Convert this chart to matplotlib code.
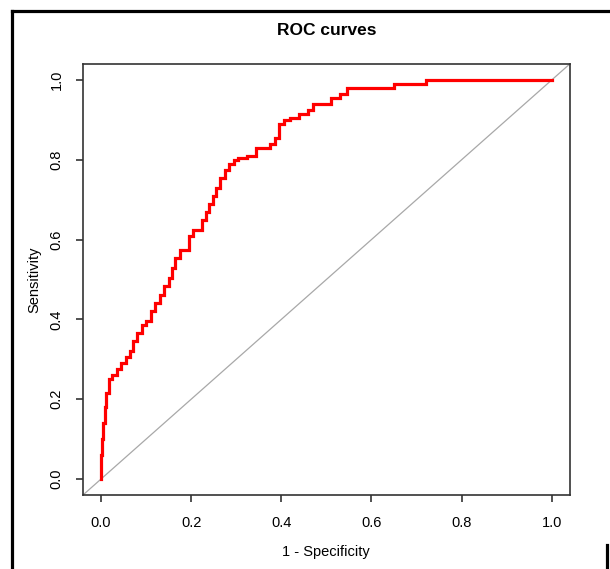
import numpy as np
import matplotlib.pyplot as plt
from matplotlib.lines import Line2D

plt.rcParams['font.family'] = ['Liberation Sans', 'DejaVu Sans']

# ROC curve corners (1 - specificity, sensitivity)
fpr = [0.000, 0.000, 0.003, 0.003, 0.005, 0.005, 0.008, 0.008, 0.012, 0.012,
       0.018, 0.018, 0.025, 0.025, 0.035, 0.035, 0.045, 0.045, 0.055, 0.055,
       0.065, 0.065, 0.072, 0.072, 0.080, 0.080, 0.090, 0.090, 0.100, 0.100,
       0.110, 0.110, 0.120, 0.120, 0.130, 0.130, 0.140, 0.140, 0.150, 0.150,
       0.158, 0.158, 0.165, 0.165, 0.175, 0.175, 0.195, 0.195, 0.205, 0.205,
       0.225, 0.225, 0.232, 0.232, 0.240, 0.240, 0.248, 0.248, 0.256, 0.256,
       0.264, 0.264, 0.275, 0.275, 0.285, 0.285, 0.295, 0.295, 0.305, 0.305,
       0.325, 0.325, 0.345, 0.345, 0.375, 0.375, 0.385, 0.385, 0.395, 0.395,
       0.405, 0.405, 0.420, 0.420, 0.440, 0.440, 0.460, 0.460, 0.470, 0.470,
       0.510, 0.510, 0.530, 0.530, 0.545, 0.545, 0.650, 0.650, 0.720, 0.720,
       1.000]
tpr = [0.000, 0.060, 0.060, 0.100, 0.100, 0.140, 0.140, 0.180, 0.180, 0.215,
       0.215, 0.250, 0.250, 0.262, 0.262, 0.275, 0.275, 0.290, 0.290, 0.305,
       0.305, 0.320, 0.320, 0.345, 0.345, 0.365, 0.365, 0.385, 0.385, 0.395,
       0.395, 0.420, 0.420, 0.440, 0.440, 0.460, 0.460, 0.485, 0.485, 0.505,
       0.505, 0.530, 0.530, 0.555, 0.555, 0.575, 0.575, 0.610, 0.610, 0.625,
       0.625, 0.650, 0.650, 0.670, 0.670, 0.690, 0.690, 0.710, 0.710, 0.730,
       0.730, 0.755, 0.755, 0.775, 0.775, 0.790, 0.790, 0.800, 0.800, 0.805,
       0.805, 0.810, 0.810, 0.830, 0.830, 0.840, 0.840, 0.855, 0.855, 0.890,
       0.890, 0.900, 0.900, 0.905, 0.905, 0.915, 0.915, 0.925, 0.925, 0.940,
       0.940, 0.955, 0.955, 0.965, 0.965, 0.980, 0.980, 0.990, 0.990, 1.000,
       1.000]

ticks = [0.0, 0.2, 0.4, 0.6, 0.8, 1.0]
tick_labels = ['0.0', '0.2', '0.4', '0.6', '0.8', '1.0']

fig = plt.figure(figsize=(6.1, 5.69), dpi=100)
ax = fig.add_axes([0.136, 0.130, 0.798, 0.7575])

# chance line across the whole box, like abline(0, 1)
ax.axline((0, 0), (1, 1), color='#a8a8a8', lw=0.9)
ax.plot(fpr, tpr, color='#ff0000', lw=2.3, solid_joinstyle='miter')

ax.set_xlim(-0.04, 1.04)
ax.set_ylim(-0.04, 1.04)
ax.set_xticks(ticks)
ax.set_xticklabels(tick_labels)
ax.set_yticks(ticks)
ax.set_yticklabels(tick_labels, rotation=90, va='center')
ax.tick_params(axis='both', direction='out', length=5, width=1.1,
               color='#222222', labelsize=10.5)
ax.tick_params(axis='x', pad=10)
ax.tick_params(axis='y', pad=9)
for sp in ax.spines.values():
    sp.set_linewidth(1.2)
    sp.set_color('#333333')

ax.set_title('ROC curves', fontsize=12.5, fontweight='bold', pad=21)
ax.set_xlabel('1 - Specificity', fontsize=10.5)
ax.set_ylabel('Sensitivity', fontsize=10.5)
ax.xaxis.set_label_coords(0.5, -0.115)
ax.yaxis.set_label_coords(-0.085, 0.5)

# screenshot frame around the plot
fig.add_artist(Line2D([12 / 610, 12 / 610], [0, 1 - 11 / 569],
                      transform=fig.transFigure, color='black', lw=2.3))
fig.add_artist(Line2D([12 / 610, 1], [1 - 11 / 569, 1 - 11 / 569],
                      transform=fig.transFigure, color='black', lw=2.3))
fig.add_artist(Line2D([607 / 610, 607 / 610], [0, 1 - 545 / 569],
                      transform=fig.transFigure, color='black', lw=2.3))

fig.savefig('out.png', dpi=100)
